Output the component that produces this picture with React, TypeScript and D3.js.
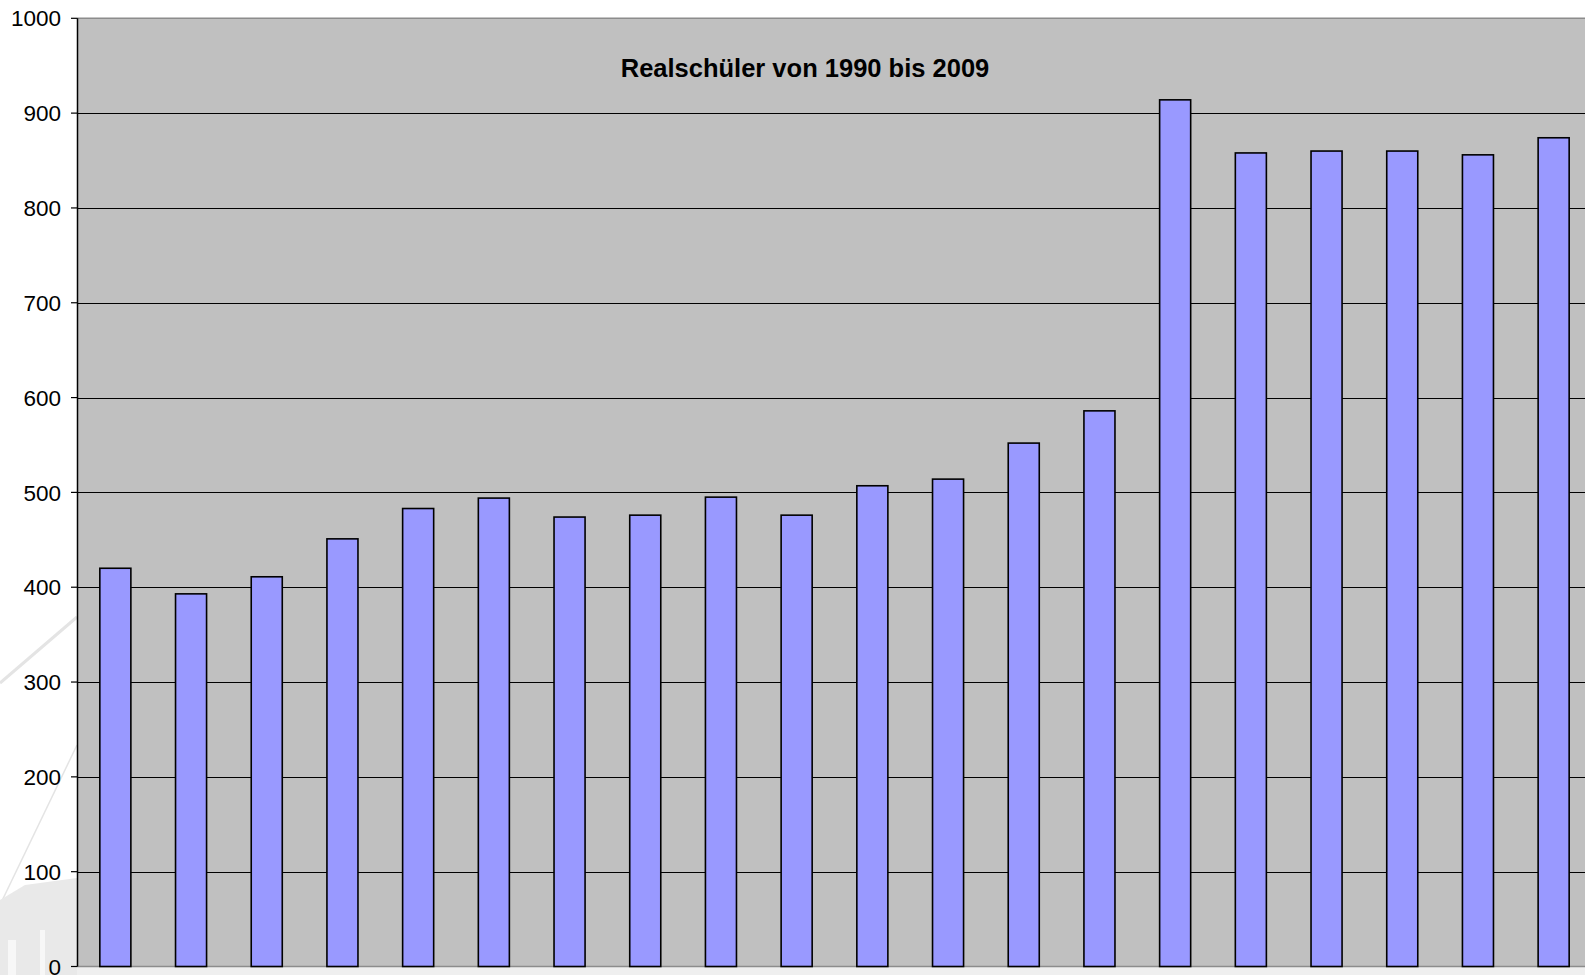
import React from "react";
import * as d3 from "d3";

const years: string[] = [
  "1990", "1991", "1992", "1993", "1994", "1995", "1996", "1997", "1998", "1999",
  "2000", "2001", "2002", "2003", "2004", "2005", "2006", "2007", "2008", "2009",
];
const students: number[] = [
  420, 393, 411, 451, 483, 494, 474, 476, 495, 476,
  507, 514, 552, 586, 914, 858, 860, 860, 856, 874,
];
const yTicks: number[] = [0, 100, 200, 300, 400, 500, 600, 700, 800, 900, 1000];
const title = "Realschüler von 1990 bis 2009";

const W = 1585;
const H = 975;
const plotLeft = 77.5;
const plotRight = 77.5 + 1514;
const plotTop = 18.3;
const plotBottom = 966.5;
const FONT = "'Liberation Sans', Arial, Helvetica, sans-serif";

export default function App() {
  const x = d3
    .scaleBand<string>()
    .domain(years)
    .range([plotLeft, plotRight])
    .paddingInner(0.59)
    .paddingOuter(0.295);
  const y = d3.scaleLinear().domain([0, 1000]).range([plotBottom, plotTop]);

  return (
    <svg
      width={W}
      height={H}
      viewBox={`0 0 ${W} ${H}`}
      style={{ position: "absolute", left: 0, top: 0, background: "#ffffff" }}
    >
      <defs>
        <clipPath id="clipAll">
          <rect x={0} y={0} width={W} height={H} />
        </clipPath>
      </defs>
      {/* faint background watermark strokes */}
      <g stroke="#e4e4e4" fill="none">
        <line x1={0} y1={683} x2={77} y2={617} strokeWidth={3} />
        <line x1={0} y1={905} x2={77} y2={745} strokeWidth={1.5} />
      </g>
      <g fill="#e9e9e9">
        <path d={`M0,900 L25,885 L77,878 L77,975 L0,975 Z`} />
        <rect x={77} y={967} width={W - 77} height={8} fill="#efefef" />
      </g>
      <g fill="#f7f7f7">
        <rect x={8} y={940} width={8} height={35} />
        <rect x={40} y={930} width={5} height={45} />
      </g>
      <g clipPath="url(#clipAll)">
        {/* plot area */}
        <rect
          x={plotLeft}
          y={plotTop}
          width={plotRight - plotLeft}
          height={plotBottom - plotTop}
          fill="#c0c0c0"
        />
        {/* top border */}
        <line
          x1={plotLeft}
          x2={plotRight}
          y1={plotTop}
          y2={plotTop}
          stroke="#8c8c8c"
          strokeWidth={1.5}
        />
        {/* gridlines */}
        {yTicks
          .filter((t) => t !== 0 && t !== 1000)
          .map((t) => (
            <line
              key={"g" + t}
              x1={plotLeft}
              x2={plotRight}
              y1={Math.round(y(t)) + 0.5}
              y2={Math.round(y(t)) + 0.5}
              stroke="#000000"
              strokeWidth={1}
            />
          ))}
        {/* bottom edge */}
        <line
          x1={plotLeft}
          x2={plotRight}
          y1={plotBottom}
          y2={plotBottom}
          stroke="#8c8c8c"
          strokeWidth={1.5}
        />
        {/* bars */}
        {years.map((yr, i) => (
          <rect
            key={yr}
            x={x(yr)!}
            y={y(students[i])}
            width={x.bandwidth()}
            height={y(0) - y(students[i])}
            fill="#9999ff"
            stroke="#000000"
            strokeWidth={1.6}
          />
        ))}
        {/* y axis */}
        <line
          x1={plotLeft}
          x2={plotLeft}
          y1={plotTop}
          y2={plotBottom}
          stroke="#000000"
          strokeWidth={1.5}
        />
        {yTicks.map((t) => (
          <g key={"t" + t}>
            <line
              x1={plotLeft - 6.5}
              x2={plotLeft}
              y1={y(t)}
              y2={y(t)}
              stroke="#000000"
              strokeWidth={1.2}
            />
            <text
              x={61}
              y={y(t)}
              dy="0.36em"
              textAnchor="end"
              fontFamily={FONT}
              fontSize={22.5}
              fill="#000000"
            >
              {t}
            </text>
          </g>
        ))}
        {/* title */}
        <text
          x={805}
          y={77}
          textAnchor="middle"
          fontFamily={FONT}
          fontSize={25.5}
          fontWeight="bold"
          fill="#000000"
        >
          {title}
        </text>
      </g>
    </svg>
  );
}
